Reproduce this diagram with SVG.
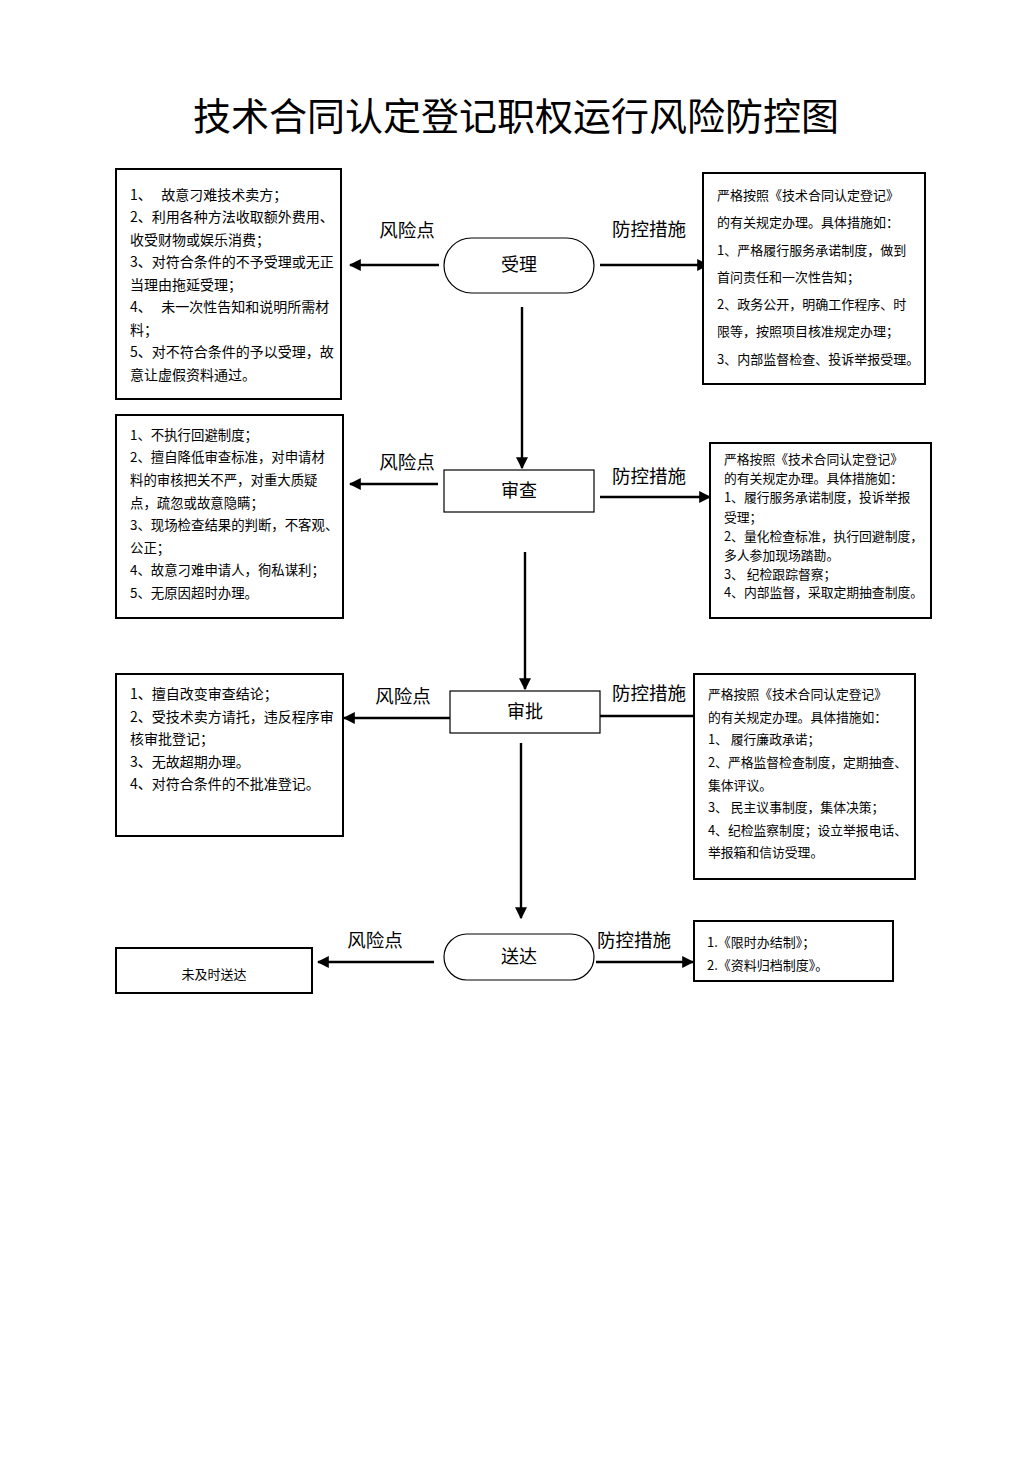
<svg xmlns="http://www.w3.org/2000/svg" width="1033" height="1460" viewBox="0 0 1033 1460">
<defs>
<marker id="ah" viewBox="0 0 10 10" refX="9" refY="5" markerWidth="5" markerHeight="5" markerUnits="strokeWidth" orient="auto">
<path d="M0,0 L10,5 L0,10 z" fill="#000"/>
</marker>
<style>
text{font-family:"Noto Sans CJK SC","Liberation Sans",sans-serif;fill:#000;white-space:pre}
.box{fill:#fff;stroke:#000;stroke-width:2}
.node{fill:#fff;stroke:#000;stroke-width:1.2}
.t{font-size:14px}
.tc{font-size:13.4px}
.b{font-size:13px}
.s{font-size:12.8px}
.lab{font-size:18.5px}
.nt{font-size:18px}
.c{stroke:#000;stroke-width:2.4;fill:none;marker-end:url(#ah)}
</style>
</defs>
<rect width="1033" height="1460" fill="#fff"/>
<text x="516" y="130" font-size="38" text-anchor="middle" textLength="646" lengthAdjust="spacingAndGlyphs">技术合同认定登记职权运行风险防控图</text>

<g id="connectors">
<line class="c" x1="439" y1="265" x2="350" y2="265"/>
<line class="c" x1="600" y1="265" x2="708" y2="265"/>
<line class="c" x1="522" y1="307" x2="522" y2="468"/>
<line class="c" x1="438" y1="484" x2="350" y2="484"/>
<line class="c" x1="600" y1="497" x2="710" y2="497"/>
<line class="c" x1="525" y1="552" x2="525" y2="689"/>
<line class="c" x1="450" y1="718" x2="344" y2="718"/>
<line class="c" x1="598" y1="716" x2="706" y2="716"/>
<line class="c" x1="521" y1="743" x2="521" y2="918"/>
<line class="c" x1="434" y1="962" x2="318" y2="962"/>
<line class="c" x1="596" y1="962" x2="693" y2="962"/>
</g>

<g id="labels">
<text class="lab" x="407" y="237" text-anchor="middle">风险点</text>
<text class="lab" x="649" y="236" text-anchor="middle">防控措施</text>
<text class="lab" x="407" y="469" text-anchor="middle">风险点</text>
<text class="lab" x="649" y="483" text-anchor="middle">防控措施</text>
<text class="lab" x="403" y="703" text-anchor="middle">风险点</text>
<text class="lab" x="649" y="700" text-anchor="middle">防控措施</text>
<text class="lab" x="375" y="947" text-anchor="middle">风险点</text>
<text class="lab" x="634" y="947" text-anchor="middle">防控措施</text>
</g>

<g id="node-shouli">
<rect class="node" x="444" y="238" width="150" height="55" rx="27.5"/>
<text class="nt" x="519" y="271" text-anchor="middle">受理</text>
</g>
<g id="node-shencha">
<rect class="node" x="444" y="470" width="150" height="42"/>
<text class="nt" x="519" y="497" text-anchor="middle">审查</text>
</g>
<g id="node-shenpi">
<rect class="node" x="450" y="691" width="150" height="42"/>
<text class="nt" x="525" y="718" text-anchor="middle">审批</text>
</g>
<g id="node-songda">
<rect class="node" x="444" y="934" width="150" height="46" rx="23"/>
<text class="nt" x="519" y="963" text-anchor="middle">送达</text>
</g>

<g id="risk-shouli">
<rect class="box" x="116" y="169" width="225" height="230"/>
<text class="t">
<tspan x="130" y="200">1、   故意刁难技术卖方；</tspan>
<tspan x="130" y="222">2、利用各种方法收取额外费用、</tspan>
<tspan x="130" y="245">收受财物或娱乐消费；</tspan>
<tspan x="130" y="267">3、对符合条件的不予受理或无正</tspan>
<tspan x="130" y="290">当理由拖延受理；</tspan>
<tspan x="130" y="312">4、   未一次性告知和说明所需材</tspan>
<tspan x="130" y="335">料；</tspan>
<tspan x="130" y="357">5、对不符合条件的予以受理，故</tspan>
<tspan x="130" y="380">意让虚假资料通过。</tspan>
</text>
</g>

<g id="measure-shouli">
<rect class="box" x="703" y="173" width="222" height="211"/>
<text class="b">
<tspan x="717" y="200">严格按照《技术合同认定登记》</tspan>
<tspan x="717" y="227">的有关规定办理。具体措施如：</tspan>
<tspan x="717" y="255">1、严格履行服务承诺制度，做到</tspan>
<tspan x="717" y="282">首问责任和一次性告知；</tspan>
<tspan x="717" y="309">2、政务公开，明确工作程序、时</tspan>
<tspan x="717" y="336">限等，按照项目核准规定办理；</tspan>
<tspan x="717" y="364">3、内部监督检查、投诉举报受理。</tspan>
</text>
</g>

<g id="risk-shencha">
<rect class="box" x="116" y="415" width="227" height="203"/>
<text class="tc">
<tspan x="130" y="440">1、不执行回避制度；</tspan>
<tspan x="130" y="462">2、擅自降低审查标准，对申请材</tspan>
<tspan x="130" y="485">料的审核把关不严，对重大质疑</tspan>
<tspan x="130" y="508">点，疏忽或故意隐瞒；</tspan>
<tspan x="130" y="530">3、现场检查结果的判断，不客观、</tspan>
<tspan x="130" y="553">公正；</tspan>
<tspan x="130" y="575">4、故意刁难申请人，徇私谋利；</tspan>
<tspan x="130" y="598">5、无原因超时办理。</tspan>
</text>
</g>

<g id="measure-shencha">
<rect class="box" x="710" y="443" width="221" height="175"/>
<text class="s">
<tspan x="724" y="464">严格按照《技术合同认定登记》</tspan>
<tspan x="724" y="483">的有关规定办理。具体措施如：</tspan>
<tspan x="724" y="502">1、履行服务承诺制度，投诉举报</tspan>
<tspan x="724" y="522">受理；</tspan>
<tspan x="724" y="541">2、量化检查标准，执行回避制度，</tspan>
<tspan x="724" y="560">多人参加现场踏勘。</tspan>
<tspan x="724" y="579">3、 纪检跟踪督察；</tspan>
<tspan x="724" y="597">4、内部监督，采取定期抽查制度。</tspan>
</text>
</g>

<g id="risk-shenpi">
<rect class="box" x="116" y="674" width="227" height="162"/>
<text class="t">
<tspan x="130" y="699">1、擅自改变审查结论；</tspan>
<tspan x="130" y="722">2、受技术卖方请托，违反程序审</tspan>
<tspan x="130" y="744">核审批登记；</tspan>
<tspan x="130" y="767">3、无故超期办理。</tspan>
<tspan x="130" y="789">4、对符合条件的不批准登记。</tspan>
</text>
</g>

<g id="measure-shenpi">
<rect class="box" x="694" y="674" width="221" height="205"/>
<text class="s">
<tspan x="708" y="699">严格按照《技术合同认定登记》</tspan>
<tspan x="708" y="722">的有关规定办理。具体措施如：</tspan>
<tspan x="708" y="744">1、 履行廉政承诺；</tspan>
<tspan x="708" y="767">2、严格监督检查制度，定期抽查、</tspan>
<tspan x="708" y="790">集体评议。</tspan>
<tspan x="708" y="812">3、 民主议事制度，集体决策；</tspan>
<tspan x="708" y="835">4、纪检监察制度；设立举报电话、</tspan>
<tspan x="708" y="857">举报箱和信访受理。</tspan>
</text>
</g>

<g id="risk-songda">
<rect class="box" x="116" y="948" width="196" height="45"/>
<text class="b" x="214" y="979" text-anchor="middle">未及时送达</text>
</g>

<g id="measure-songda">
<rect class="box" x="694" y="921" width="199" height="60"/>
<text class="b">
<tspan x="707" y="947">1.《限时办结制》；</tspan>
<tspan x="707" y="970">2.《资料归档制度》。</tspan>
</text>
</g>
</svg>
